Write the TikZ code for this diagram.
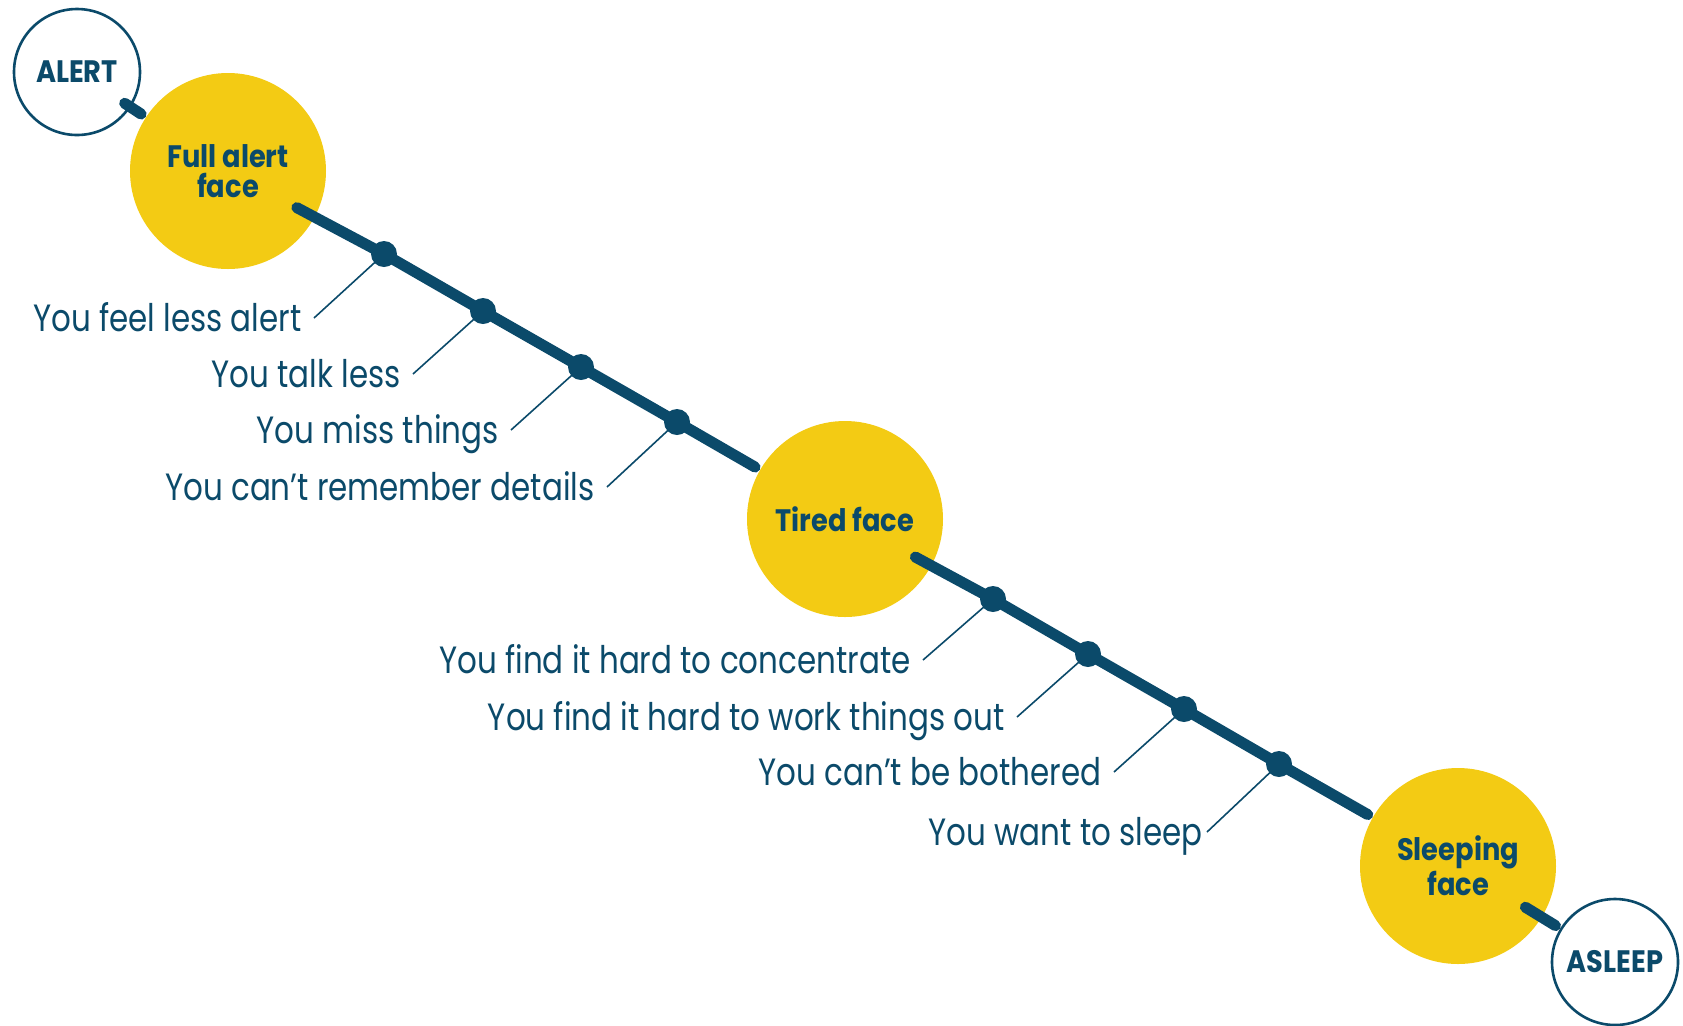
\documentclass[tikz,border=0pt]{standalone}
\usepackage{fontspec}
\usepackage{xcolor}
\usepackage{tikz}
\usetikzlibrary{positioning,calc}

\newfontfamily\lblfont{Poppins}[FakeStretch=0.815]
\newfontfamily\headfont{Poppins}[FakeStretch=0.88]
\definecolor{navy}{HTML}{0B4A6A}
\definecolor{sunny}{HTML}{F3CB14}

\begin{document}
\begin{tikzpicture}[
    x=0.5pt, y=-0.5pt,
    face/.style={circle,fill=sunny,minimum size=98pt,inner sep=0pt,align=center,
                 text=navy,font=\headfont\bfseries\fontsize{15.5pt}{15pt}\selectfont},
    state/.style={circle,draw=navy,line width=1.3pt,fill=white,minimum size=63pt,
                  inner sep=0pt,text=navy,font=\headfont\bfseries\fontsize{15.5pt}{17pt}\selectfont},
    stop/.style={circle,fill=navy,minimum size=13pt,inner sep=0pt},
    spine/.style={navy,line width=5.5pt,line cap=round,shorten >=2.75pt},
    leader/.style={navy,line width=0.8pt},
    lbl/.style={anchor=east,inner sep=0pt,inner xsep=6pt,text=navy,
                text height=15pt,text depth=2pt,
                font=\lblfont\fontsize{19pt}{23pt}\selectfont},
  ]
  \useasboundingbox (0,0) rectangle (1683,1025);

  % --- end states and the three faces ---
  \node[state] (alert)  at (77,72)    {ALERT};
  \node[face]  (full)   at (228,171)  {Full alert\\face};
  \node[face]  (tired)  at (845,519)  {Tired face};
  \node[face]  (sleep)  at (1458,866) {Sleeping\\face};
  \node[state] (asleep) at (1615,962) {ASLEEP};

  % --- stops along the way ---
  \node[stop] (d1) at (384,254) {};
  \node[stop] (d2) at (483,311) {};
  \node[stop] (d3) at (581,367) {};
  \node[stop] (d4) at (677,422) {};
  \node[stop] (d5) at (993,599) {};
  \node[stop] (d6) at (1088,654) {};
  \node[stop] (d7) at (1184,709) {};
  \node[stop] (d8) at (1279,764) {};

  % --- the spine: each piece starts inside one circle, stops at the next ---
  \draw[spine] ($(alert)!28.5pt!(full)$) -- (full);
  \draw[spine] ($(full)!39pt!(d1)$) -- (d1.center) -- (d2.center)
               -- (d3.center) -- (d4.center) -- (tired);
  \draw[spine] ($(tired)!40pt!(d5)$) -- (d5.center) -- (d6.center)
               -- (d7.center) -- (d8.center) -- (sleep);
  \draw[spine] ($(sleep)!39.5pt!(asleep)$) -- (asleep);

  % --- what happens at each stop ---
  \node[lbl] (l1) at ($(d1)+(-70,64)$) {You feel less alert};
  \node[lbl] (l2) at ($(d2)+(-70,63)$) {You talk less};
  \node[lbl] (l3) at ($(d3)+(-70,63)$) {You miss things};
  \node[lbl] (l4) at ($(d4)+(-70,65)$) {You can’t remember details};
  \node[lbl] (l5) at ($(d5)+(-70,61)$) {You find it hard to concentrate};
  \node[lbl] (l6) at ($(d6)+(-71,63)$) {You find it hard to work things out};
  \node[lbl] (l7) at ($(d7)+(-70,63)$) {You can’t be bothered};
  \node[lbl,inner xsep=2pt] (l8) at ($(d8)+(-72,68)$) {You want to sleep};

  \foreach \i in {1,...,8} {
    \draw[leader] (d\i.center) -- (l\i.east);
  }

\end{tikzpicture}
\end{document}
